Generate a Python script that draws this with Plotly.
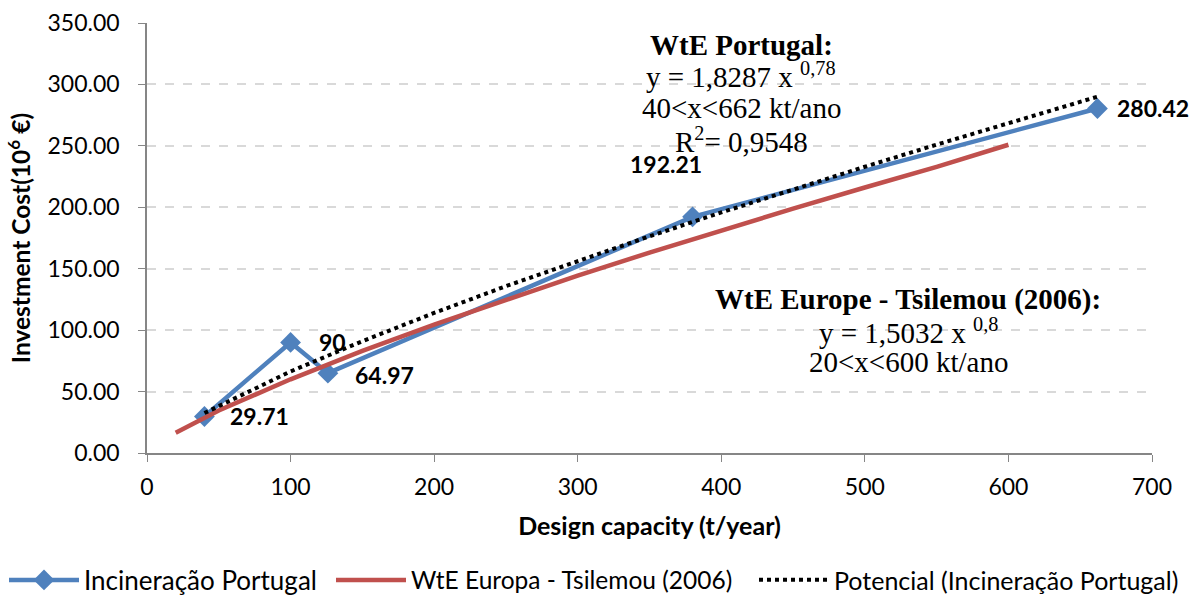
import plotly.graph_objects as go

# Incineração Portugal data
pt_x = [40, 100, 126, 380, 662]
pt_y = [29.71, 90, 64.97, 192.21, 280.42]
pt_labels = ["29.71", "90", "64.97", "192.21", "280.42"]

# WtE Europa - Tsilemou (2006) curve
eu_x = [20, 50, 100, 150, 200, 250, 300, 350, 400, 450, 500, 550, 600]
eu_y = [16.5, 34.6, 60.0, 83.1, 104.5, 124.8, 144.4, 163.1, 181.2, 198.9, 216.1, 232.9, 250.9]

# Potencial (Incineração Portugal) trend
tr_x = [40, 100, 150, 200, 250, 300, 350, 400, 450, 500, 550, 600, 662]
tr_y = [32.5, 66.4, 91.0, 114.0, 135.8, 156.4, 176.4, 195.8, 214.6, 233.0, 251.0, 268.6, 290.0]

x_ticks = [0, 100, 200, 300, 400, 500, 600, 700]
y_ticks = [0, 50, 100, 150, 200, 250, 300, 350]

blue = "#4F81BD"
red = "#C0504D"
sans = "Lato, Open Sans, sans-serif"
label_font = dict(family=sans, size=23, color="black")

fig = go.Figure()
fig.add_trace(go.Scatter(x=pt_x, y=pt_y, mode="lines+markers", name="Incineração Portugal",
                         line=dict(color=blue, width=4.5), legend="legend",
                         marker=dict(symbol="diamond", size=16, color=blue)))
fig.add_trace(go.Scatter(x=eu_x, y=eu_y, mode="lines", name="WtE Europa - Tsilemou (2006)",
                         line=dict(color=red, width=4.5), legend="legend2"))
fig.add_trace(go.Scatter(x=tr_x, y=tr_y, mode="lines", name="Potencial (Incineração Portugal)",
                         line=dict(color="black", width=4, dash="dot"), legend="legend3"))

shifts = [(24, 1, "left"), (26, 0, "left"), (25, -2, "left"), (-27, 53, "center"), (18, 0, "left")]
for xv, yv, lab, (dx, dy, anc) in zip(pt_x, pt_y, pt_labels, shifts):
    fig.add_annotation(x=xv, y=yv, text="<b>%s</b>" % lab, showarrow=False,
                       xanchor=anc, yanchor="middle", xshift=dx, yshift=dy, font=label_font)

serif = "Liberation Serif, Times New Roman, serif"
pt_lines = [("<b>WtE Portugal:</b>", 45), ("y = 1,8287 x <sup>0,78</sup>", 75),
            ("40&lt;x&lt;662 kt/ano", 108), ("R<sup>2</sup>= 0,9548", 140)]
for txt, py in pt_lines:
    fig.add_annotation(x=741, y=py, xref="paper", yref="paper", text=txt, showarrow=False,
                       xanchor="center", yanchor="middle", font=dict(family=serif, size=29, color="black"))
eu_lines = [("<b>WtE Europe - Tsilemou (2006):</b>", 299), ("y = 1,5032 x <sup>0,8</sup>", 331),
            ("20&lt;x&lt;600 kt/ano", 362)]
for txt, py in eu_lines:
    fig.add_annotation(x=908, y=py, xref="paper", yref="paper", text=txt, showarrow=False,
                       xanchor="center", yanchor="middle", font=dict(family=serif, size=29, color="black"))

# convert pixel positions of text annotations to paper coords
L, R, T, B = 147, 48, 23, 144
W, H = 1200, 597
pw, ph = W - L - R, H - T - B
for a in fig.layout.annotations:
    if a.xref == "paper":
        a.x = (a.x - L) / pw
        a.y = 1 - (a.y - T) / ph

leg_y = 1 - 580 / 597
def leg(xpx, fs):
    return dict(orientation="h", x=xpx / W, xref="container", xanchor="left",
                y=leg_y, yref="container", yanchor="middle",
                font=dict(family=sans, size=fs, color="black"), itemwidth=70,
                bgcolor="rgba(0,0,0,0)")

fig.update_layout(
    width=W, height=H,
    margin=dict(l=L, r=R, t=T, b=B, autoexpand=False),
    plot_bgcolor="white", paper_bgcolor="white",
    font=dict(family=sans, size=23, color="black"),
    showlegend=True,
    legend=leg(4, 26), legend2=leg(331, 24.5), legend3=leg(754, 25),
    xaxis=dict(range=[0, 700], tickvals=x_ticks, showgrid=False, zeroline=False,
               showline=True, linecolor="#868686", linewidth=1.5,
               ticks="outside", ticklen=7, tickcolor="#868686", ticklabelstandoff=6,
               title=dict(text="<b>Design capacity (t/year)</b>", font=dict(size=25), standoff=18)),
    yaxis=dict(range=[0, 350], tickvals=y_ticks, tickformat=".2f",
               showgrid=True, gridcolor="#D9D9D9", griddash="dash", gridwidth=1.5,
               zeroline=False, showline=True, linecolor="#868686", linewidth=1.5,
               ticks="outside", ticklen=7, tickcolor="#868686", ticklabelstandoff=14,
               title=dict(text="<b>Investment Cost(10<sup>6</sup> €)</b>", font=dict(size=24.5), standoff=10)),
)

fig.write_html("out.html", config={"displayModeBar": False},
               post_script="document.body.style.margin='0px';")
